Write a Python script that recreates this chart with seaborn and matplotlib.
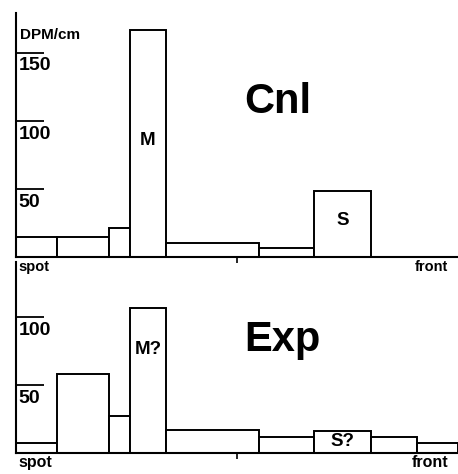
import numpy as np
import pandas as pd
import seaborn as sns
import matplotlib
matplotlib.use("Agg")
import matplotlib.pyplot as plt

# bin edges along the plate (cm from spot), radioactivity per cm
edges_cnl = [0, 0.93, 2.10, 2.58, 3.39, 5.50, 6.74, 8.03]
dpm_cnl = [14.8, 14.8, 21.9, 166.4, 10.4, 6.7, 48.8]
edges_exp = [0, 0.93, 2.10, 2.58, 3.39, 5.50, 6.74, 8.03, 9.07, 10]
dpm_exp = [7.4, 58.0, 27.3, 106.6, 16.8, 11.8, 16.2, 11.8, 7.4]

# peak labels: (bin index, label, height)
labels_cnl = [(3, "M", 86), (6, "S", 27)]
labels_exp = [(3, "M?", 76), (6, "S?", 8)]
yticks_cnl = [50, 100, 150]
yticks_exp = [50, 100]

sns.set_style("white")
plt.rcParams['font.family'] = ['Liberation Sans', 'DejaVu Sans']
plt.rcParams['text.color'] = 'black'

fig = plt.figure(figsize=(4.58, 4.74), dpi=100)
ax1 = fig.add_axes([0.0349, 0.4568, 0.965, 0.5158])
ax2 = fig.add_axes([0.0349, 0.0449, 0.965, 0.4023])


def panel(ax, edges, dpm, labels, yticks, ytop, name, name_y, small):
    e = np.array(edges)
    centers = (e[:-1] + e[1:]) / 2
    df = pd.DataFrame({"pos": centers, "dpm": dpm})
    sns.histplot(data=df, x="pos", weights="dpm", bins=list(edges), ax=ax,
                 color="white", edgecolor="black", linewidth=1.4, alpha=1)
    ax.set_xlim(0, 10)
    ax.set_ylim(0, ytop)
    ax.patch.set_alpha(0)
    for s in ["top", "right"]:
        ax.spines[s].set_visible(False)
    for s in ["left", "bottom"]:
        ax.spines[s].set_linewidth(1.5)
        ax.spines[s].set_color("black")
    ax.set_xlabel("")
    ax.set_ylabel("")
    ax.set_yticks(yticks)
    ax.set_yticklabels([])
    ax.tick_params(axis="y", left=True, direction="in", length=20, width=1.3,
                   color="black")
    ax.set_xticks([5])
    ax.set_xticklabels([])
    ax.tick_params(axis="x", bottom=True, direction="out", length=4, width=1.2,
                   color="black")
    for v in yticks:
        ax.annotate(str(v), xy=(0.006, v), xycoords=ax.get_yaxis_transform(),
                    xytext=(0, -3.5), textcoords="offset points",
                    ha="left", va="top", fontsize=14, fontweight="bold")
    for i, lab, y in labels:
        ax.text(centers[i], y, lab, ha="center", va="center",
                fontsize=13.5, fontweight="bold")
    ax.text(5.16, name_y, name, ha="left", va="baseline",
            fontsize=30, fontweight="bold")
    ax.text(0.05, -2, "spot", ha="left", va="top", fontsize=small,
            fontweight="bold", clip_on=False)
    ax.text(9.78, -2, "front", ha="right", va="top", fontsize=small,
            fontweight="bold", clip_on=False)


panel(ax1, edges_cnl, dpm_cnl, labels_cnl, yticks_cnl, 179, "Cnl", 106, 10.5)
panel(ax2, edges_exp, dpm_exp, labels_exp, yticks_exp, 140.7, "Exp", 75.3, 11.5)

ax1.text(0.008, 0.94, "DPM/cm", transform=ax1.transAxes, ha="left", va="top",
         fontsize=11, fontweight="bold")
ax1.set_zorder(3)

fig.savefig("out.png", dpi=100, facecolor="white")
